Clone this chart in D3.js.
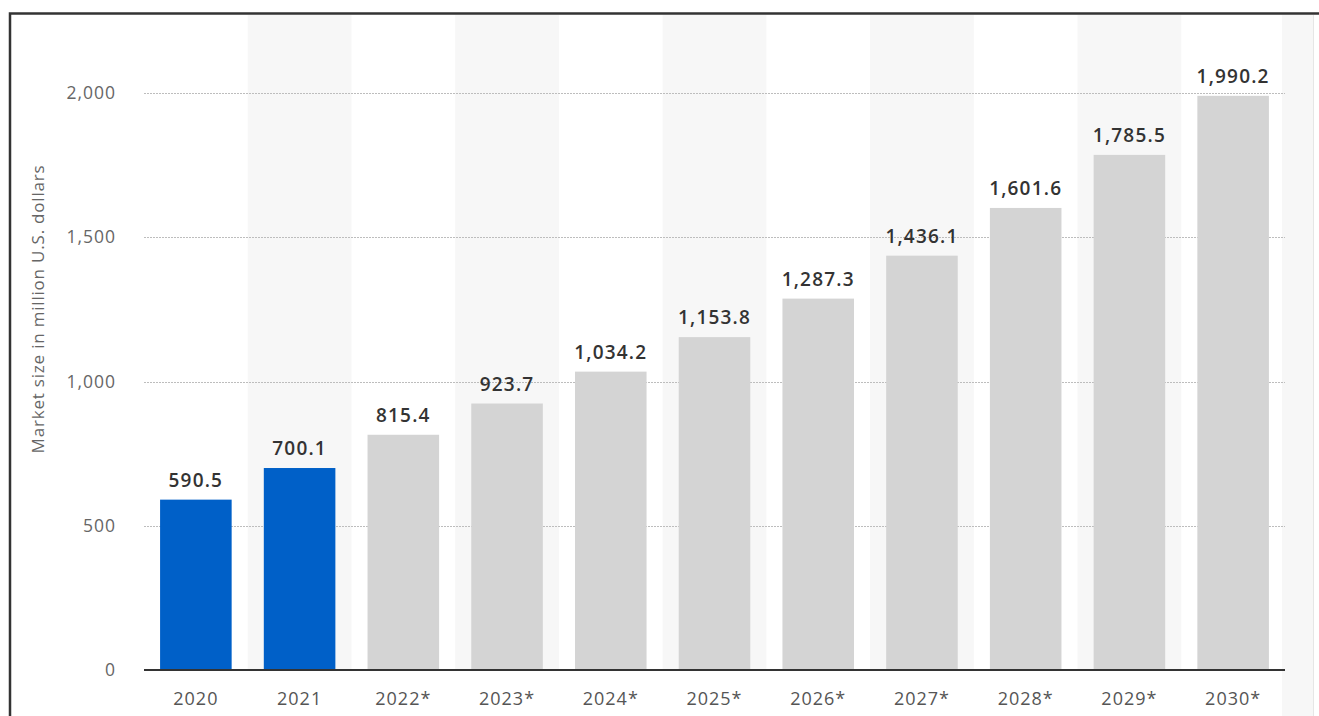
<!DOCTYPE html>
<html>
<head>
<meta charset="utf-8">
<script src="https://cdn.jsdelivr.net/npm/d3@7"></script>
<style>
  html, body { margin: 0; padding: 0; background: #fff; }
  svg { display: block; font-family: "Open Sans", "Noto Sans", sans-serif; }
</style>
</head>
<body>
<svg id="chart" width="1319" height="716"></svg>
<script>
// Market size by year (million U.S. dollars); starred years are forecasts
const years = ["2020", "2021", "2022*", "2023*", "2024*", "2025*", "2026*", "2027*", "2028*", "2029*", "2030*"];
const marketSize = [590.5, 700.1, 815.4, 923.7, 1034.2, 1153.8, 1287.3, 1436.1, 1601.6, 1785.5, 1990.2];
const yTicks = [0, 500, 1000, 1500, 2000];
const yTitle = "Market size in million U.S. dollars";

const svg = d3.select("#chart");
const W = 1319, H = 716;
const m = { left: 144, right: 1285, top: 93, bottom: 670 };

const x = d3.scaleBand().domain(years).range([m.left, m.right]).paddingInner(0.31).paddingOuter(0.155);
const y = d3.scaleLinear().domain([0, 2000]).range([m.bottom, m.top]);

// frame
svg.append("rect").attr("x", 1282).attr("y", 15).attr("width", 31).attr("height", H - 15).attr("fill", "#f7f7f7");
svg.append("line").attr("x1", 1313.5).attr("x2", 1313.5).attr("y1", 15).attr("y2", H).attr("stroke", "#e6e6e6").attr("stroke-width", 1);

// alternating column shading
const step = x.step();
svg.append("g").selectAll("rect")
  .data(years.filter((d, i) => i % 2 === 1))
  .join("rect")
  .attr("x", d => x(d) + x.bandwidth() / 2 - step / 2)
  .attr("y", 15)
  .attr("width", step)
  .attr("height", m.bottom - 15)
  .attr("fill", "#f7f7f7");

// gridlines
svg.append("g").selectAll("line")
  .data(yTicks.filter(t => t > 0))
  .join("line")
  .attr("x1", m.left).attr("x2", m.right)
  .attr("y1", d => Math.round(y(d)) + 0.5).attr("y2", d => Math.round(y(d)) + 0.5)
  .attr("stroke", "#bdbdbd").attr("stroke-width", 1).attr("stroke-dasharray", "2,1");

// y tick labels
svg.append("g").selectAll("text")
  .data(yTicks)
  .join("text")
  .attr("x", 116).attr("y", d => y(d))
  .attr("dy", "0.35em")
  .attr("text-anchor", "end")
  .attr("fill", "#666")
  .attr("font-size", 17.5)
  .attr("letter-spacing", 1)
  .text(d => d3.format(",")(d));

// y title
svg.append("text")
  .attr("transform", `translate(44,${(160 + 458) / 2}) rotate(-90)`)
  .attr("text-anchor", "middle")
  .attr("fill", "#666")
  .attr("font-size", 17)
  .attr("letter-spacing", 0.8)
  .text(yTitle);

// bars
svg.append("g").selectAll("rect")
  .data(years)
  .join("rect")
  .attr("x", d => x(d))
  .attr("width", x.bandwidth())
  .attr("y", (d, i) => y(marketSize[i]))
  .attr("height", (d, i) => y(0) - y(marketSize[i]))
  .attr("fill", d => d.endsWith("*") ? "#d4d4d4" : "#0060c8");

// value labels
svg.append("g").selectAll("text")
  .data(years)
  .join("text")
  .attr("x", d => x(d) + x.bandwidth() / 2)
  .attr("y", (d, i) => y(marketSize[i]) - 13)
  .attr("text-anchor", "middle")
  .attr("fill", "#333")
  .attr("font-size", 19)
  .attr("font-weight", 600)
  .attr("letter-spacing", 1.2)
  .text((d, i) => d3.format(",.1f")(marketSize[i]));

// x axis
const xAxis = svg.append("g").attr("transform", `translate(0,${m.bottom})`)
  .call(d3.axisBottom(x).tickSize(0).tickPadding(22));
xAxis.select(".domain").attr("stroke", "#333").attr("stroke-width", 2)
  .attr("d", `M${m.left},0H${m.right}`);
xAxis.selectAll("text")
  .attr("fill", "#555")
  .attr("font-size", 18)
  .attr("letter-spacing", 1)
  .attr("font-family", "\"Open Sans\", \"Noto Sans\", sans-serif");

// outer frame (top and left)
svg.append("path").attr("d", `M10,${H}V13.5H${W}`).attr("fill", "none").attr("stroke", "#333").attr("stroke-width", 2.5);
</script>
</body>
</html>
